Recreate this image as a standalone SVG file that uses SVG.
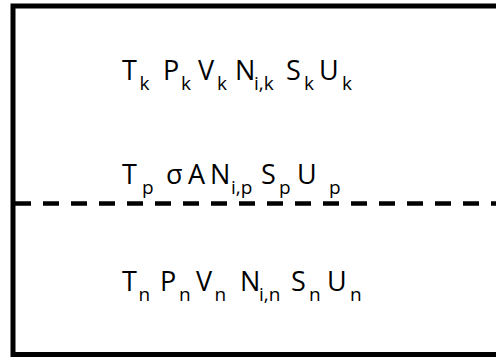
<svg xmlns="http://www.w3.org/2000/svg" width="496" height="358" viewBox="0 0 496 358">
  <style>
    .frame { fill: #ffffff; stroke: #000000; stroke-width: 5; }
    .divider { stroke: #000000; stroke-width: 4.5; stroke-dasharray: 16 12; fill: none; }
    .lbl { font-family: "Open Sans", "DejaVu Sans", sans-serif; font-size: 27px; fill: #000000; }
    .sub { font-size: 19px; }
  </style>
  <rect width="496" height="358" fill="#ffffff"/>
  <!-- outer boundary of the system -->
  <g id="boundary">
    <rect class="frame" x="13" y="6" width="500" height="348.5"/>
  </g>
  <!-- interface between the two phases -->
  <g id="interface">
    <line class="divider" x1="15" y1="203.5" x2="496" y2="203.5"/>
  </g>
  <!-- upper phase k -->
  <g id="phase-k">
    <text class="lbl">
      <tspan x="122" y="80">T</tspan><tspan class="sub" x="139.5" y="89.5">k</tspan>
      <tspan x="163" y="80">P</tspan><tspan class="sub" x="181" y="89.5">k</tspan>
      <tspan x="198" y="80">V</tspan><tspan class="sub" x="217" y="89.5">k</tspan>
      <tspan x="235" y="80">N</tspan><tspan class="sub" x="254" y="89.5">i,k</tspan>
      <tspan x="286" y="80">S</tspan><tspan class="sub" x="304" y="89.5">k</tspan>
      <tspan x="319" y="80">U</tspan><tspan class="sub" x="342" y="89.5">k</tspan>
    </text>
  </g>
  <!-- surface phase p -->
  <g id="phase-p">
    <text class="lbl">
      <tspan x="122" y="184">T</tspan><tspan class="sub" x="142" y="193.5">p</tspan>
      <tspan x="166" y="184">σ</tspan>
      <tspan x="188" y="184">A</tspan>
      <tspan x="210" y="184">N</tspan><tspan class="sub" x="231" y="193.5">i,p</tspan>
      <tspan x="261" y="184">S</tspan><tspan class="sub" x="279" y="193.5">p</tspan>
      <tspan x="297" y="184">U</tspan><tspan class="sub" x="329" y="193.5">p</tspan>
    </text>
  </g>
  <!-- lower phase n -->
  <g id="phase-n">
    <text class="lbl">
      <tspan x="122" y="291">T</tspan><tspan class="sub" x="138.5" y="301">n</tspan>
      <tspan x="160" y="291">P</tspan><tspan class="sub" x="179" y="301">n</tspan>
      <tspan x="196" y="291">V</tspan><tspan class="sub" x="214.5" y="301">n</tspan>
      <tspan x="240" y="291">N</tspan><tspan class="sub" x="259" y="301">i,n</tspan>
      <tspan x="291" y="291">S</tspan><tspan class="sub" x="309" y="301">n</tspan>
      <tspan x="327" y="291">U</tspan><tspan class="sub" x="350" y="301">n</tspan>
    </text>
  </g>
</svg>
